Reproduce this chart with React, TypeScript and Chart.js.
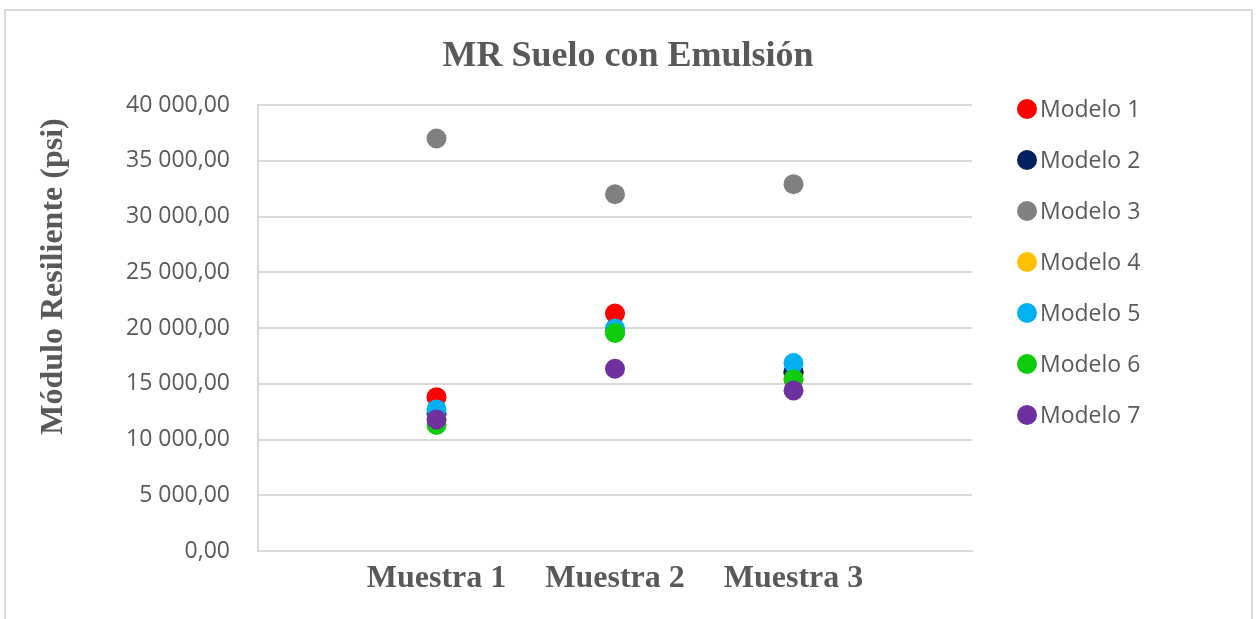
import React, { useEffect, useRef } from "react";
import { Chart, registerables } from "chart.js";

Chart.register(...registerables);

const categories = ["Muestra 1", "Muestra 2", "Muestra 3"];
const seriesNames = ["Modelo 1", "Modelo 2", "Modelo 3", "Modelo 4", "Modelo 5", "Modelo 6", "Modelo 7"];
const seriesColors = ["#FF0000", "#002060", "#808080", "#FFC000", "#00B0F0", "#0FCC0F", "#7030A0"];
const modelo1 = [13800, 21300, 16000];
const modelo2 = [12300, 19800, 16000];
const modelo3 = [37000, 32000, 32900];
const modelo4 = [11800, 19600, 15400];
const modelo5 = [12700, 19950, 16850];
const modelo6 = [11300, 19550, 15400];
const modelo7 = [11800, 16350, 14400];
const seriesValues = [modelo1, modelo2, modelo3, modelo4, modelo5, modelo6, modelo7];

const chartTitle = "MR Suelo con Emulsión";
const yAxisTitle = "Módulo Resiliente (psi)";
const yMin = 0;
const yMax = 40000;
const yStep = 5000;

const TEXT = "#595959";
const GRID = "#d9d9d9";
const SANS = "'Open Sans', 'Liberation Sans', sans-serif";
const SERIF = "'Liberation Serif', 'Times New Roman', serif";

function fmt(v: number): string {
  const s = Math.round(v).toString().replace(/\B(?=(\d{3})+(?!\d))/g, " ");
  return s + ",00";
}

const textDecor = {
  id: "textDecor",
  afterDraw(chart: any) {
    const ctx = chart.ctx;
    ctx.save();
    // chart title
    ctx.font = `bold 36px ${SERIF}`;
    ctx.fillStyle = TEXT;
    ctx.textAlign = "center";
    ctx.textBaseline = "alphabetic";
    ctx.fillText(chartTitle, 628, 66);
    // y axis title
    ctx.save();
    ctx.translate(62, 276.5);
    ctx.rotate(-Math.PI / 2);
    ctx.font = `bold 32px ${SERIF}`;
    ctx.fillStyle = TEXT;
    ctx.textAlign = "center";
    ctx.textBaseline = "alphabetic";
    ctx.fillText(yAxisTitle, 0, 0);
    ctx.restore();
    // legend
    ctx.font = `23px ${SANS}`;
    ctx.textAlign = "left";
    ctx.textBaseline = "middle";
    chart.data.datasets.forEach((ds: any, i: number) => {
      const y = 109 + i * 51;
      ctx.beginPath();
      ctx.arc(1027, y, 10, 0, Math.PI * 2);
      ctx.fillStyle = ds.backgroundColor;
      ctx.fill();
      ctx.fillStyle = TEXT;
      ctx.fillText(ds.label, 1040, y + 1);
    });
    ctx.restore();
  },
};

export default function App() {
  const ref = useRef<HTMLCanvasElement | null>(null);
  useEffect(() => {
    if (!ref.current) return;
    const datasets = seriesNames.map((name, i) => ({
      label: name,
      data: seriesValues[i].map((v, j) => ({ x: j + 1, y: v })),
      backgroundColor: seriesColors[i],
      borderColor: seriesColors[i],
      pointRadius: 10,
      pointHoverRadius: 10,
      pointBorderWidth: 0,
      showLine: false,
      order: seriesNames.length - 1 - i,
    }));
    const chart = new Chart(ref.current, {
      type: "scatter",
      data: { datasets },
      plugins: [textDecor],
      options: {
        responsive: false,
        animation: false,
        layout: { padding: { top: 105, right: 285, left: 0, bottom: 0 } },
        plugins: {
          legend: { display: false },
          tooltip: { enabled: false },
          title: { display: false },
        },
        scales: {
          x: {
            type: "linear",
            min: 0,
            max: 4,
            afterFit: (s: any) => { s.height = 68; },
            grid: { display: false, drawTicks: false },
            border: { display: true, color: GRID, width: 2 },
            ticks: {
              stepSize: 1,
              padding: 9,
              color: TEXT,
              font: { family: SERIF, size: 32, weight: "bold" },
              callback: (v: any) => categories[Number(v) - 1] ?? "",
            },
          },
          y: {
            min: yMin,
            max: yMax,
            afterFit: (s: any) => { s.width = 258; },
            grid: { color: GRID, lineWidth: 2, drawTicks: false },
            border: { display: true, color: GRID, width: 2 },
            ticks: {
              stepSize: yStep,
              padding: 28,
              color: TEXT,
              font: { family: SANS, size: 23 },
              callback: (v: any) => fmt(Number(v)),
            },
          },
        },
      },
    });
    return () => chart.destroy();
  }, []);
  return (
    <div style={{ position: "fixed", left: 0, top: 0, width: 1257, height: 619, overflow: "hidden", background: "#fff" }}>
      <div
        style={{
          position: "absolute",
          left: 4,
          top: 9,
          width: 1249,
          height: 700,
          boxSizing: "border-box",
          border: `2px solid ${GRID}`,
        }}
      />
      <canvas ref={ref} width={1257} height={619} style={{ position: "absolute", left: 0, top: 0 }} />
    </div>
  );
}
